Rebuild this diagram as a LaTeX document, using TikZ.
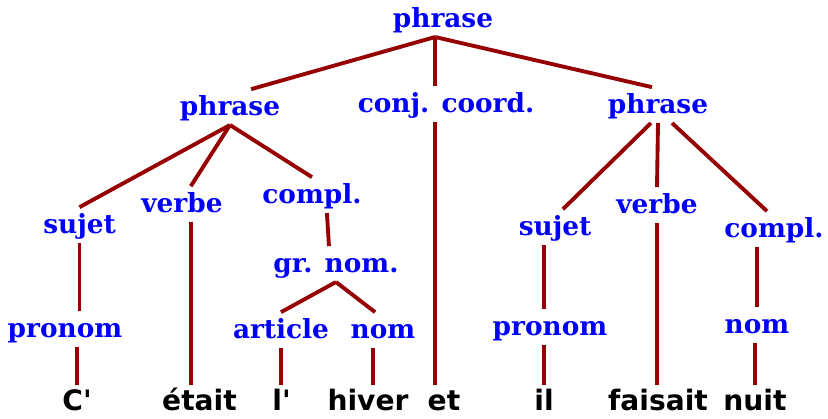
\documentclass[tikz,border=0pt]{standalone}
\usepackage{fontspec}
\usepackage{xcolor}
\usepackage{tikz}
\usetikzlibrary{positioning, calc}

\newfontfamily\catfont{DejaVu Serif}
\newfontfamily\wordfont[Ligatures=TeXOff]{DejaVu Sans}
\definecolor{catblue}{RGB}{0,0,250}
\definecolor{treered}{RGB}{150,0,0}

\tikzset{
  cat/.style={text=catblue, font=\catfont\bfseries\fontsize{15}{18}\selectfont, anchor=base, inner sep=2pt, text height=12.5pt, text depth=3.5pt},
  word/.style={text=black, font=\wordfont\bfseries\fontsize{16}{19}\selectfont, anchor=base, inner sep=1pt, text height=13.5pt, text depth=0pt},
  branch/.style={draw=treered, line width=2.2pt}
}

\begin{document}
\begin{tikzpicture}
\useasboundingbox (0,0) rectangle (16.56,8.36);
\node[cat] (root) at (8.86,7.82) {phrase};
\node[cat] (p1) at (4.60,6.06) {phrase};
\node[cat] (cc) at (8.92,6.12) {conj. coord.};
\node[cat] (p2) at (13.16,6.10) {phrase};
\node[cat] (s1) at (1.59,3.70) {sujet};
\node[cat] (v1) at (3.64,4.12) {verbe};
\node[cat] (c1) at (6.24,4.30) {compl.};
\node[cat] (gn) at (6.72,2.92) {gr. nom.};
\node[cat] (pr1) at (1.30,1.62) {pronom};
\node[cat] (art) at (5.62,1.60) {article};
\node[cat] (n1) at (7.66,1.60) {nom};
\node[cat] (s2) at (11.10,3.66) {sujet};
\node[cat] (v2) at (13.14,4.10) {verbe};
\node[cat] (c2) at (15.48,3.62) {compl.};
\node[cat] (pr2) at (11.00,1.66) {pronom};
\node[cat] (n2) at (15.14,1.70) {nom};

\node[word] (w1) at (1.54,0.15) {C'};
\node[word] (w2) at (3.99,0.15) {était};
\node[word] (w3) at (5.63,0.15) {l'};
\node[word] (w4) at (7.36,0.15) {hiver};
\node[word] (w5) at (8.88,0.15) {et};
\node[word] (w6) at (10.88,0.15) {il};
\node[word] (w7) at (13.16,0.15) {faisait};
\node[word] (w8) at (15.10,0.15) {nuit};

\coordinate (rootj) at ([xshift=-4.5pt]root.south);
\draw[branch] (rootj) -- ([xshift=12pt]p1.north);
\draw[branch] (rootj) -- (rootj |- cc.north);
\draw[branch] (rootj) -- ([xshift=-3.4pt]p2.north);
\draw[branch] (rootj |- cc.south) -- (rootj |- w5.north);

\draw[branch] (p1.south) -- (s1.north);
\draw[branch] (p1.south) -- ([xshift=5pt]v1.north);
\draw[branch] (p1.south) -- (c1.north);
\draw[branch] ([xshift=8.5pt]c1.south) -- ([xshift=-4pt]gn.north);
\draw[branch] (gn.south) -- (art.north);
\draw[branch] (gn.south) -- ([xshift=-4.5pt]n1.north);
\draw[branch] (s1.south) -- (s1.south |- pr1.north);
\draw[branch] (w1.north |- pr1.south) -- (w1.north);
\draw[branch] ([xshift=5pt]v1.south) -- ([xshift=5pt]v1.south |- w2.north);
\draw[branch] (art.south) -- (art.south |- w3.north);
\draw[branch] ([xshift=-5.5pt]n1.south) -- ([xshift=-5.5pt]n1.south |- w4.north);

\draw[branch] ([xshift=-4pt]p2.south) -- ([xshift=4.5pt]s2.north);
\draw[branch] (p2.south) -- (v2.north);
\draw[branch] ([xshift=8pt]p2.south) -- ([xshift=-4pt]c2.north);
\draw[branch] (w6.north |- s2.south) -- (w6.north |- pr2.north);
\draw[branch] (w6.north |- pr2.south) -- (w6.north);
\draw[branch] (v2.south) -- (v2.south |- w7.north);
\draw[branch] (n2.north |- c2.south) -- (n2.north);
\draw[branch] (w8.north |- n2.south) -- (w8.north);
\end{tikzpicture}
\end{document}
